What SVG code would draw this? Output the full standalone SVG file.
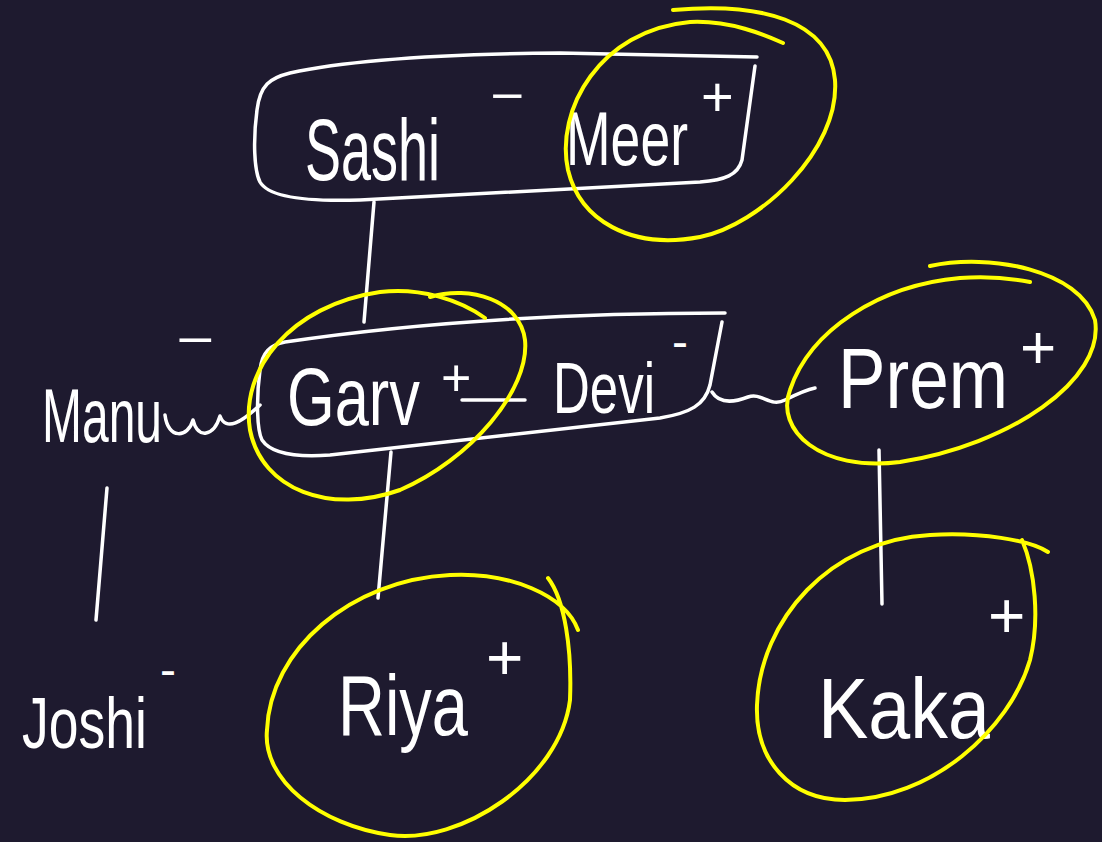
<svg xmlns="http://www.w3.org/2000/svg" width="1102" height="842" viewBox="0 0 1102 842">
<style>
.bg{fill:#1e1a2f}
.w{fill:none;stroke:#ffffff;stroke-width:3.5;stroke-linecap:round;stroke-linejoin:round}
.y{fill:none;stroke:#ffff00;stroke-width:4;stroke-linecap:round;stroke-linejoin:round}
.t{fill:#ffffff;font-family:"Liberation Sans",Arial,sans-serif}
</style>
<rect class="bg" x="0" y="0" width="1102" height="842"/>
<g id="connectors">
<path class="w" d="M374,202 L364,322"/>
<path class="w" d="M391,452 L378,598"/>
<path class="w" d="M879,450 L882,604"/>
<path class="w" d="M107,488 L96,620"/>
<path class="w" d="M462,400 L525,400"/>
<path class="w" d="M712,392 C720,405 735,402 748,397 C762,392 770,408 785,400 C795,395 805,390 815,388"/>
<path class="w" d="M165,415 C168,440 188,438 193,420 C198,440 214,436 220,416 C226,432 242,422 260,405"/>
</g>
<g id="node-sashi-meer">
<path class="w" d="M757,57 L560,53 C450,54 350,60 290,73 C270,78 260,85 257,110 C253,140 254,170 260,182 C268,196 300,202 360,200 L700,182 C725,180 738,175 742,160 L755,66"/>
<text class="t" x="305" y="180" font-size="88"><tspan textLength="135" lengthAdjust="spacingAndGlyphs">Sashi</tspan><tspan x="490" y="112" font-size="48" textLength="34" lengthAdjust="spacingAndGlyphs">−</tspan></text>
<text class="t" x="566" y="165" font-size="76"><tspan textLength="122" lengthAdjust="spacingAndGlyphs">Meer</tspan><tspan x="701" y="116" font-size="56">+</tspan></text>
<path class="y" d="M673,10 C760,2 830,20 835,80 C840,150 760,225 700,237 C630,250 580,220 568,170 C555,110 600,30 690,22 C730,20 765,35 783,43"/>
</g>
<g id="node-garv-devi">
<path class="w" d="M725,313 C550,313 400,325 285,342 C270,345 262,352 260,370 C256,400 257,430 262,440 C270,452 290,458 330,455 L660,418 C690,413 705,405 710,385 L722,322"/>
<text class="t" x="287" y="425" font-size="82"><tspan textLength="133" lengthAdjust="spacingAndGlyphs">Garv</tspan><tspan x="441" y="396" font-size="52">+</tspan></text>
<text class="t" x="553" y="413" font-size="72"><tspan textLength="102" lengthAdjust="spacingAndGlyphs">Devi</tspan><tspan x="672" y="358" font-size="48">-</tspan></text>
<path class="y" d="M430,297 C470,285 520,300 525,340 C530,390 470,460 400,490 C330,515 262,490 250,430 C240,370 290,305 380,292 C420,287 460,300 485,318"/>
</g>
<g id="node-manu">
<text class="t" x="42" y="442" font-size="76"><tspan textLength="120" lengthAdjust="spacingAndGlyphs">Manu</tspan><tspan x="176" y="356" font-size="48" textLength="38" lengthAdjust="spacingAndGlyphs">−</tspan></text>
</g>
<g id="node-joshi">
<text class="t" x="22" y="748" font-size="72"><tspan textLength="125" lengthAdjust="spacingAndGlyphs">Joshi</tspan><tspan x="160" y="686" font-size="48">-</tspan></text>
</g>
<g id="node-prem">
<text class="t" x="838" y="408" font-size="86"><tspan textLength="170" lengthAdjust="spacingAndGlyphs">Prem</tspan><tspan x="1020" y="368" font-size="62">+</tspan></text>
<path class="y" d="M930,266 C990,253 1080,270 1095,320 C1105,380 1010,445 900,462 C820,472 775,430 790,390 C810,330 880,285 960,278 C990,276 1010,278 1030,282"/>
</g>
<g id="node-riya">
<text class="t" x="338" y="735" font-size="86"><tspan textLength="130" lengthAdjust="spacingAndGlyphs">Riya</tspan><tspan x="486" y="680" font-size="64">+</tspan></text>
<path class="y" d="M548,578 C565,600 572,650 570,700 C560,780 460,845 390,835 C320,825 262,780 267,730 C270,650 350,580 450,575 C510,572 565,595 578,630"/>
</g>
<g id="node-kaka">
<text class="t" x="818" y="738" font-size="86"><tspan textLength="172" lengthAdjust="spacingAndGlyphs">Kaka</tspan><tspan x="988" y="638" font-size="64">+</tspan></text>
<path class="y" d="M1022,540 C1035,570 1040,620 1030,660 C1010,730 930,800 845,800 C790,800 755,760 757,705 C760,620 830,540 930,535 C980,532 1030,540 1048,552"/>
</g>
</svg>
